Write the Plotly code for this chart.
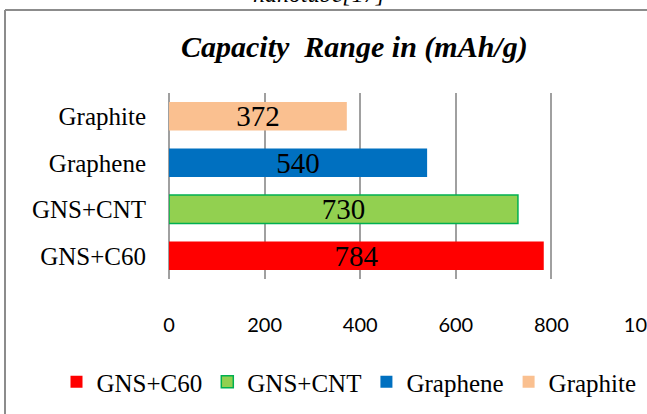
import plotly.graph_objects as go

# Capacity of anode materials (mAh/g)
materials = ["GNS+C60", "GNS+CNT", "Graphene", "Graphite"]
capacity = [784, 730, 540, 372]
fill_colors = ["#FF0000", "#92D050", "#0070C0", "#FAC090"]
edge_colors = ["#FF0000", "#00B050", "#0070C0", "#FAC090"]
x_ticks = [0, 200, 400, 600, 800, 1000]

W, H = 647, 414
SERIF = "Liberation Serif, Times New Roman, serif"
GRID = "#A0A0A0"

fig = go.Figure()
for name, val, fc, ec in zip(materials, capacity, fill_colors, edge_colors):
    fig.add_trace(go.Bar(
        name=name,
        y=[name],
        x=[val],
        orientation="h",
        width=0.61,
        marker=dict(color=fc, line=dict(color=ec, width=1.5 if ec != fc else 0)),
        text=[val],
        texttemplate="%{text}",
        textposition="inside",
        insidetextanchor="middle",
        constraintext="none",
        textfont=dict(family=SERIF, size=29, color="black"),
    ))

fig.update_layout(
    width=W, height=H,
    margin=dict(l=0, r=0, t=0, b=0, autoexpand=False),
    paper_bgcolor="white",
    plot_bgcolor="white",
    barmode="overlay",
    showlegend=True,
    legend=dict(
        orientation="h",
        x=349 / W, xanchor="center",
        y=(H - 382) / H, yanchor="middle",
        font=dict(family=SERIF, size=25, color="black"),
        traceorder="normal",
        itemclick=False,
        itemdoubleclick=False,
        bgcolor="rgba(0,0,0,0)",
    ),
    xaxis=dict(
        domain=[169 / W, 1],
        range=[0, 1000],
        tickvals=x_ticks,
        ticktext=[str(v) for v in x_ticks],
        showgrid=True,
        gridcolor=GRID,
        gridwidth=1.5,
        zeroline=True,
        zerolinecolor=GRID,
        zerolinewidth=1.5,
        showline=False,
        ticks="",
        ticklabelstandoff=32,
        ticklabeloverflow="allow",
        automargin=False,
        tickfont=dict(family="Lato, Carlito, sans-serif", size=20, color="black"),
        fixedrange=True,
    ),
    yaxis=dict(
        domain=[(H - 279) / H, (H - 93) / H],
        categoryorder="array",
        categoryarray=materials,
        showgrid=False,
        zeroline=False,
        showline=False,
        ticks="",
        ticklabelstandoff=22,
        automargin=False,
        tickfont=dict(family=SERIF, size=25, color="black"),
        fixedrange=True,
    ),
    annotations=[
        dict(
            text="<b><i>Capacity  Range in (mAh/g)</i></b>",
            xref="paper", yref="paper",
            x=354 / W, y=(H - 47) / H,
            xanchor="center", yanchor="middle",
            showarrow=False,
            font=dict(family=SERIF, size=30, color="black"),
        ),
        dict(
            text="<i>nanotube[17]</i>",
            xref="paper", yref="paper",
            x=319 / W, y=1 + 6 / H,
            xanchor="center", yanchor="middle",
            showarrow=False,
            font=dict(family=SERIF, size=24, color="black"),
        ),
    ],
    shapes=[
        # chart frame (left and top edges)
        dict(type="line", xref="paper", yref="paper",
             x0=5 / W, x1=5 / W, y0=0, y1=1 - 10 / H,
             line=dict(color="#8C8C8C", width=2)),
        dict(type="line", xref="paper", yref="paper",
             x0=5 / W, x1=1, y0=1 - 10 / H, y1=1 - 10 / H,
             line=dict(color="#8C8C8C", width=2)),
    ],
)

fig.write_html("out.html")
